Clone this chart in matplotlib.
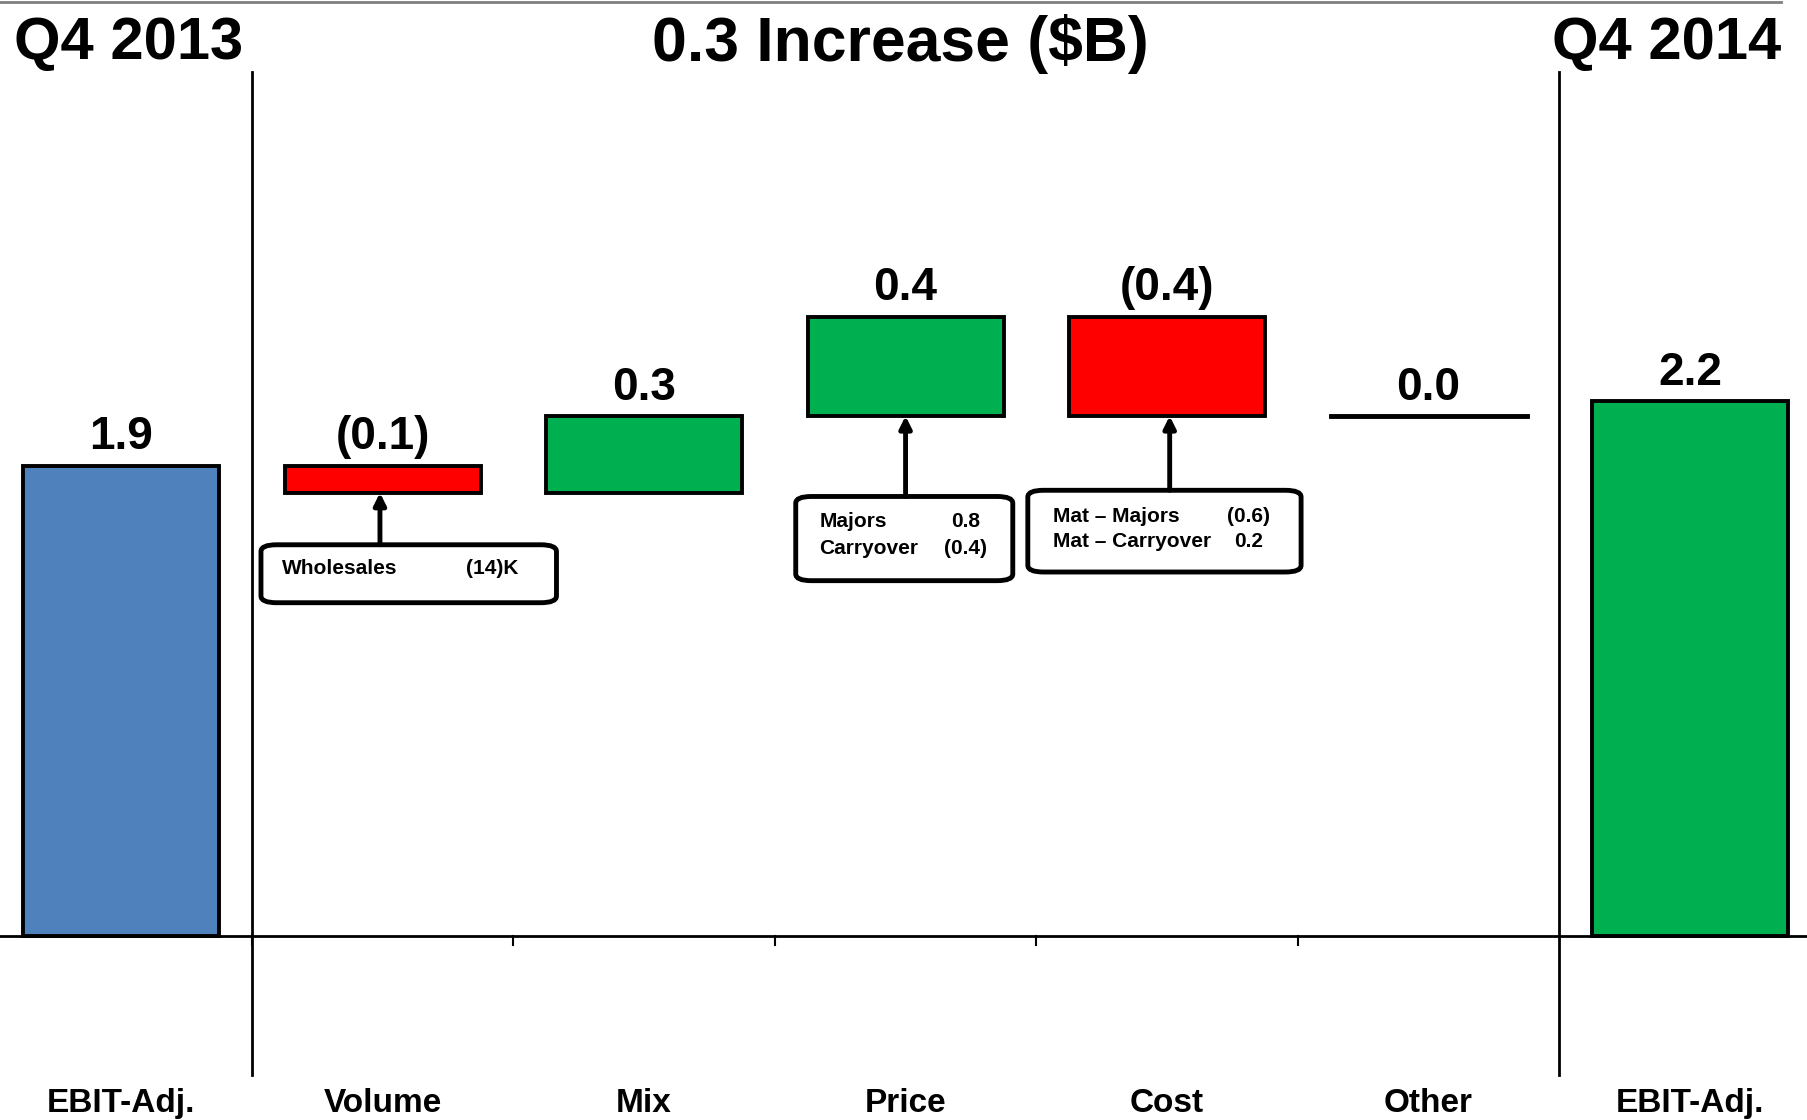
import numpy as np
import matplotlib
matplotlib.use("Agg")
import matplotlib.pyplot as plt
from matplotlib.patches import FancyBboxPatch

plt.rcParams['font.family'] = ['Liberation Sans', 'DejaVu Sans']
plt.rcParams['font.weight'] = 'bold'

# Datos del puente EBIT (en $B)
categorias = ['EBIT-Adj.', 'Volume', 'Mix', 'Price', 'Cost', 'Other', 'EBIT-Adj.']
inicio = 1.90
cambios = [-0.11, 0.31, 0.40, -0.40, 0.00]
final = 2.16
etiquetas = ['1.9', '(0.1)', '0.3', '0.4', '(0.4)', '0.0', '2.2']

# Notas de detalle bajo algunas barras
nota_vol = [('Wholesales', '(14)K')]
nota_price = [('Majors', '0.8'), ('Carryover', '(0.4)')]
nota_cost = [('Mat \u2013 Majors', '(0.6)'), ('Mat \u2013 Carryover', '0.2')]

AZUL = '#4F81BD'
VERDE = '#00B050'
ROJO = '#FF0000'

fig = plt.figure(figsize=(18.08, 11.2), dpi=100)
ax = fig.add_axes([0, 0, 1, 1])
ax.set_xlim(-0.463, 6.451)
ax.set_ylim(-0.743, 3.780)
ax.axis('off')

ancho = 0.75
x = np.arange(len(categorias))

# barras de inicio y fin
ax.bar(x[0], inicio, width=ancho, color=AZUL, edgecolor='black', linewidth=2.8, zorder=3)
ax.bar(x[-1], final, width=ancho, color=VERDE, edgecolor='black', linewidth=2.8, zorder=3)
tops = [inicio]
bottoms = [0]

nivel = inicio
for i, c in enumerate(cambios, start=1):
    base = nivel + min(c, 0)
    if c == 0:
        ax.plot([i - ancho / 2, i + ancho / 2], [nivel, nivel], color='black', lw=3.5, zorder=3)
    else:
        ax.bar(i, abs(c), bottom=base, width=ancho, color=VERDE if c > 0 else ROJO,
               edgecolor='black', linewidth=2.8, zorder=3)
    tops.append(base + abs(c))
    bottoms.append(base)
    nivel += c
tops.append(final)
bottoms.append(0)

for i, t in enumerate(tops):
    ax.text(x[i], t + 0.115, etiquetas[i], ha='center', va='center', fontsize=33,
            fontweight='bold')

# linea base, separadores y marcas
ax.axhline(0, color='black', lw=2, zorder=4)
for s in [0.5, 5.5]:
    ax.plot([s, s], [-0.56, 3.49], color='black', lw=2, zorder=4)
for t in np.arange(0.5, 5.0, 1.0):
    ax.plot([t, t], [0, -0.035], color='black', lw=1.5)

for i, c in enumerate(categorias):
    ax.text(x[i], -0.675, c, ha='center', va='center', fontsize=24, fontweight='bold')


def caja(xc, ancho_c, y0, y1, filas, ys, xt, xv, flecha_x, flecha_y):
    ax.add_patch(FancyBboxPatch((xc - ancho_c / 2, y1), ancho_c, y0 - y1,
                                boxstyle='round,pad=0,rounding_size=0.06',
                                mutation_aspect=0.45,
                                facecolor='white', edgecolor='black', lw=3.5, zorder=5))
    for (nombre, valor), yy in zip(filas, ys):
        ax.text(xt, yy, nombre, ha='left', va='center', fontsize=15, zorder=6)
        ax.text(xv, yy, valor, ha='center', va='center', fontsize=15, zorder=6)
    ax.annotate('', xy=(flecha_x, flecha_y), xytext=(flecha_x, y0),
                arrowprops=dict(arrowstyle='-|>,head_length=0.7,head_width=0.35',
                                color='black', lw=3.5, shrinkA=0, shrinkB=0), zorder=6)


caja(1.10, 1.13, 1.58, 1.346, nota_vol, [1.486], 0.617, 1.42, 0.99, bottoms[1])
caja(2.995, 0.83, 1.775, 1.435, nota_price, [1.672, 1.565], 2.67, 3.23, 3.0, bottoms[3])
caja(3.99, 1.045, 1.80, 1.47, nota_cost, [1.695, 1.593], 3.564, 4.31, 4.01, bottoms[4])

# titulos superiores
fig.text(0.008, 0.961, 'Q4 2013', ha='left', va='center', fontsize=43, fontweight='bold')
fig.text(0.498, 0.961, '0.3 Increase ($B)', ha='center', va='center', fontsize=45,
         fontweight='bold')
fig.text(0.985, 0.961, 'Q4 2014', ha='right', va='center', fontsize=43, fontweight='bold')
fig.add_artist(plt.Line2D([0, 0.985], [0.998, 0.998], color='#808080', lw=2))

fig.savefig('out.png', dpi=100)
